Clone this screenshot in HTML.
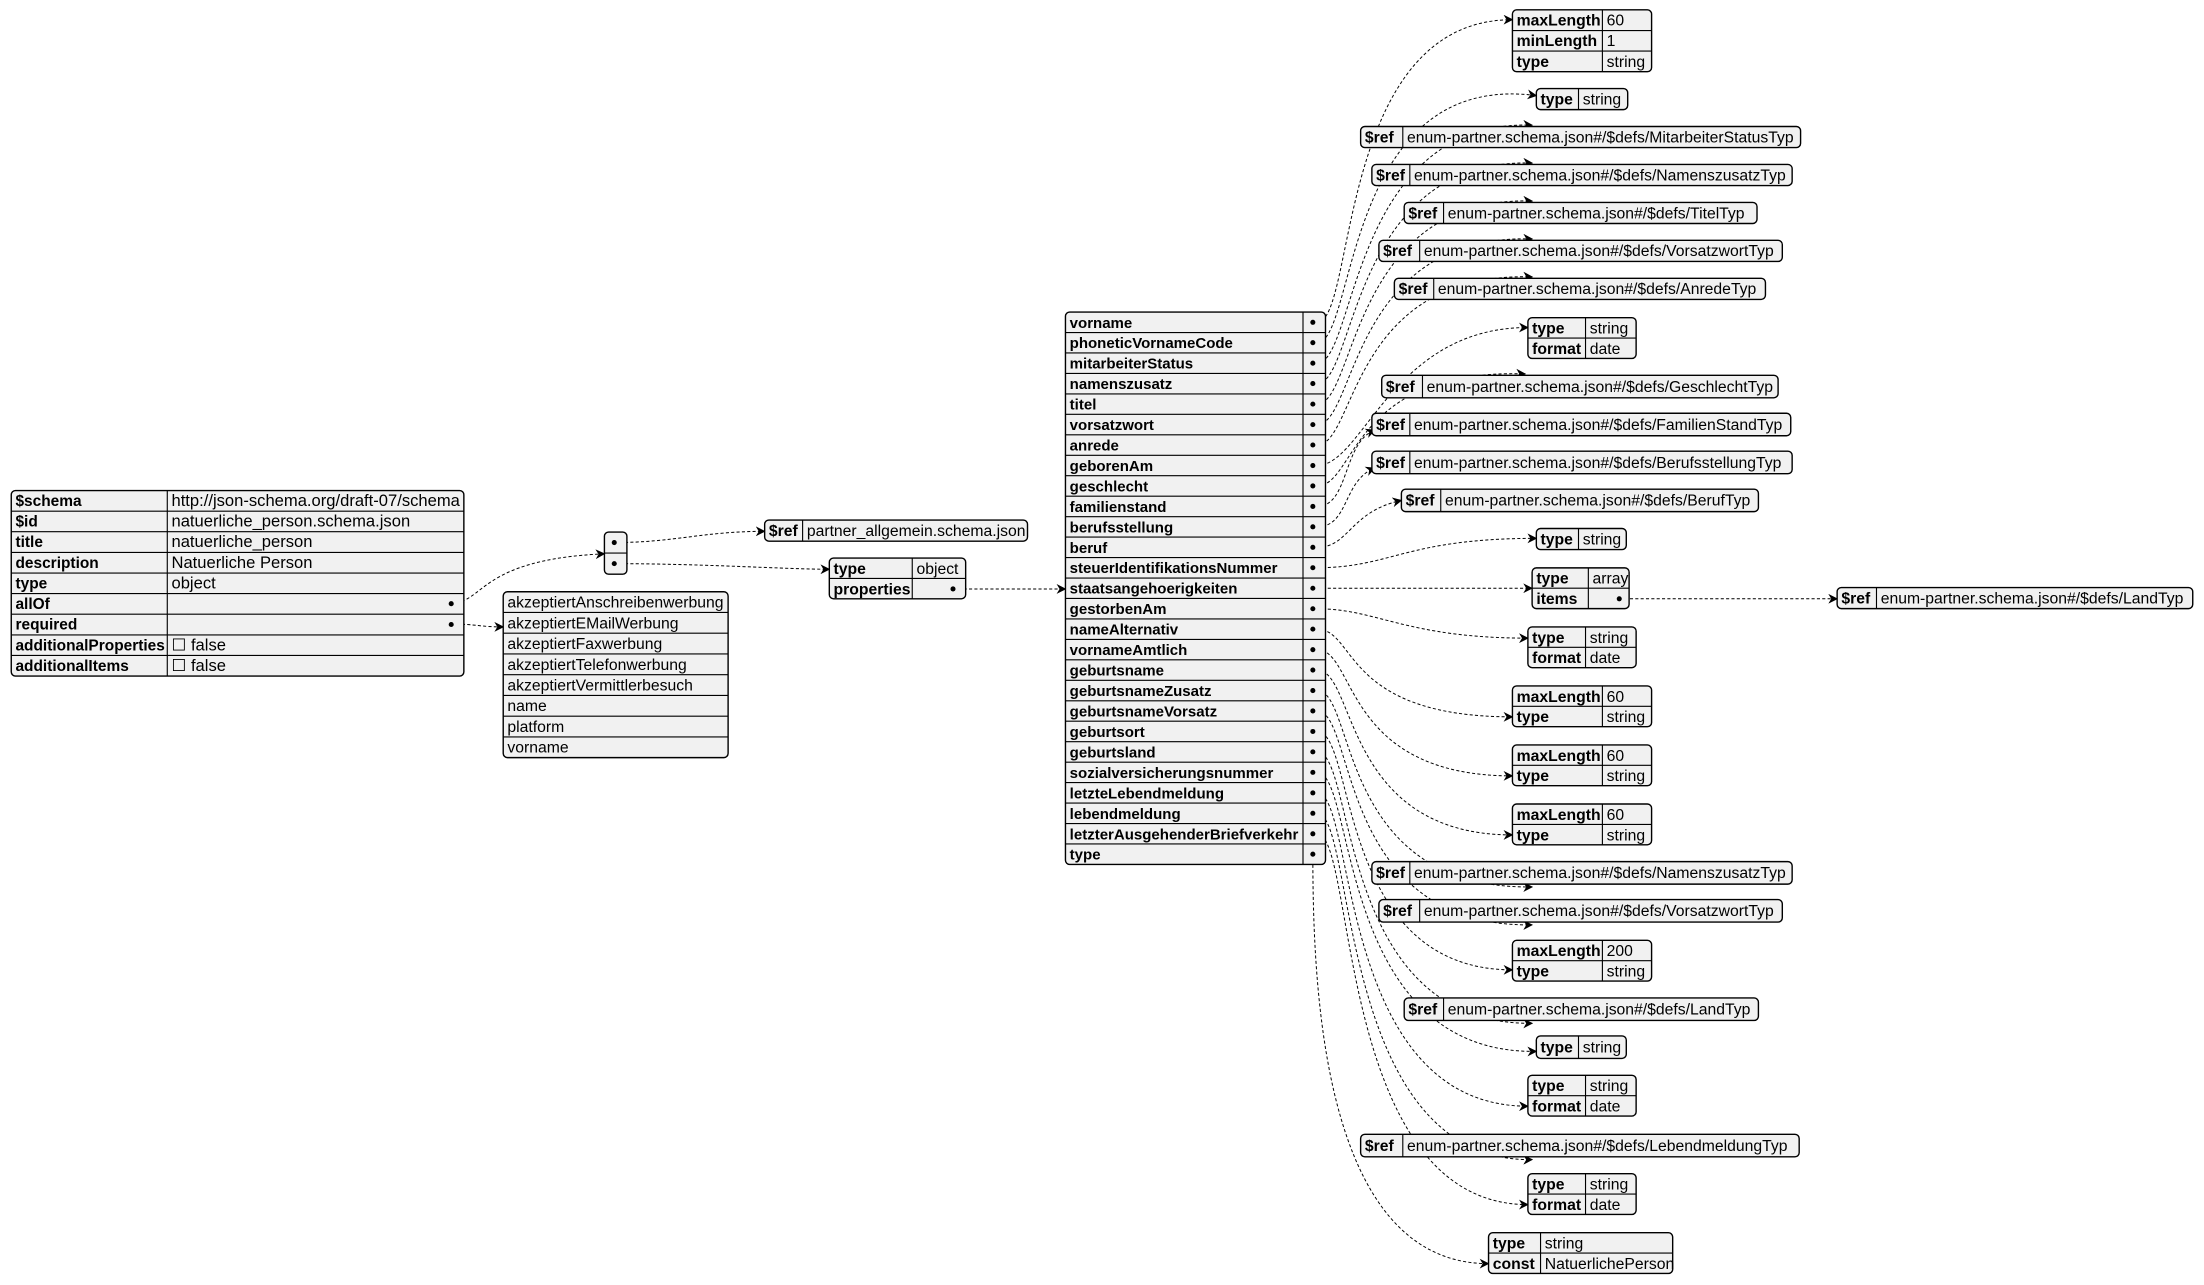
<!DOCTYPE html>
<html><head><meta charset="utf-8"><style>
html,body{margin:0;padding:0;background:#fff;width:2204px;height:1285px;overflow:hidden}
svg{display:block}
text{font-family:"Liberation Sans",sans-serif;font-size:11.2px;fill:#000}
.lt text{font-size:11.8px}
.lt text.k{font-size:11px}
.pt text{font-size:10.7px}
.k{font-weight:bold}
.b{fill:#f1f1f1;stroke:#000;stroke-width:1}
.l{stroke:#000;stroke-width:0.8;fill:none}
.e{stroke:#000;stroke-width:0.7;fill:none;stroke-dasharray:2.2 1.6;marker-end:url(#a)}
</style></head><body>
<svg width="2204" height="1285" viewBox="0 0 1568 914.2" xmlns="http://www.w3.org/2000/svg">
<defs><marker id="a" viewBox="0 0 10 10" refX="9" refY="5" markerWidth="7" markerHeight="7" orient="auto" markerUnits="userSpaceOnUse"><path d="M0,0 L10,5 L0,10 L3,5 z" fill="#000"/></marker></defs>

<path class="e" d="M321,429 C345,429 340,398 430,394"/>
<path class="e" d="M321,444 C340,444 340,446 358,446"/>
<path class="e" d="M437,386 C480,386 500,378 544,378"/>
<path class="e" d="M437,401 C500,401 560,405 590,405"/>
<path class="e" d="M678,419 L758,419"/>

<path class="e" d="M937,229.3 C965,229.3 950,14 1076,14"/>
<path class="e" d="M937,243.8 C965,243.8 955,50 1093,68"/>
<path class="e" d="M937,258.4 C965,258.4 960,85 1090,89"/>
<path class="e" d="M937,272.9 C965,272.9 960,112 1090,116"/>
<path class="e" d="M937,287.5 C965,287.5 960,139 1090,143"/>
<path class="e" d="M937,302.1 C965,302.1 960,166 1090,170"/>
<path class="e" d="M937,316.6 C965,316.6 960,193 1090,197"/>
<path class="e" d="M937,331.2 C970,331.2 990,233 1087,233"/>
<path class="e" d="M937,345.7 C965,345.7 960,262 1085,266"/>
<path class="e" d="M937,360.3 C960,360.3 955,315 978,306"/>
<path class="e" d="M937,374.8 C960,374.8 955,342 978,333"/>
<path class="e" d="M937,389.4 C960,389.4 960,364 997,356"/>
<path class="e" d="M937,403.9 C990,403.9 1000,383 1093,383"/>
<path class="e" d="M937,418.5 L1090,418.5"/>
<path class="e" d="M937,433.1 C980,433.1 1000,454 1087,454"/>
<path class="e" d="M937,447.6 C965,447.6 955,510 1076,510"/>
<path class="e" d="M937,462.2 C965,462.2 955,552 1076,552"/>
<path class="e" d="M937,476.7 C965,476.7 955,594 1076,594"/>
<path class="e" d="M937,491.3 C965,491.3 950,633 1090,631"/>
<path class="e" d="M937,505.8 C965,505.8 950,660 1090,658"/>
<path class="e" d="M937,520.4 C965,520.4 950,690 1076,690"/>
<path class="e" d="M937,534.9 C965,534.9 950,730 1090,728"/>
<path class="e" d="M937,549.5 C965,549.5 950,750 1093,748"/>
<path class="e" d="M937,564.1 C965,564.1 950,787 1087,787"/>
<path class="e" d="M937,578.6 C965,578.6 950,827 1090,825"/>
<path class="e" d="M937,593.2 C965,593.2 950,857 1087,857"/>
<path class="e" d="M934,607.7 C934,700 940,899 1059,899"/>
<path class="e" d="M1152,426 L1307,426"/>

<g class="lt">
<rect class="b" x="8" y="349" width="322" height="132" rx="3"/>
<path class="l" d="M119,349V481 M8,363.7H330 M8,378.3H330 M8,393H330 M8,407.7H330 M8,422.3H330 M8,437H330 M8,451.7H330 M8,466.3H330"/>
<text class="k" x="11" y="360">$schema</text><text x="122" y="360">http://json-schema.org/draft-07/schema</text>
<text class="k" x="11" y="374.7">$id</text><text x="122" y="374.7">natuerliche_person.schema.json</text>
<text class="k" x="11" y="389.3">title</text><text x="122" y="389.3">natuerliche_person</text>
<text class="k" x="11" y="404">description</text><text x="122" y="404">Natuerliche Person</text>
<text class="k" x="11" y="418.7">type</text><text x="122" y="418.7">object</text>
<text class="k" x="11" y="433.3">allOf</text><circle cx="321" cy="429.5" r="1.8"/>
<text class="k" x="11" y="448">required</text><circle cx="321" cy="444.3" r="1.8"/>
<text class="k" x="11" y="462.7">additionalProperties</text><text x="122" y="462.7">☐ false</text>
<text class="k" x="11" y="477.3">additionalItems</text><text x="122" y="477.3">☐ false</text>
</g>

<rect class="b" x="430" y="378.5" width="16" height="30" rx="3"/>
<path class="l" d="M430,393.5H446"/>
<circle cx="437" cy="386" r="1.8"/><circle cx="437" cy="401" r="1.8"/>

<rect class="b" x="358" y="421" width="160" height="118" rx="3"/>
<path class="l" d="M358,435.75H518 M358,450.5H518 M358,465.25H518 M358,480H518 M358,494.75H518 M358,509.5H518 M358,524.25H518"/>
<text x="361" y="432.3">akzeptiertAnschreibenwerbung</text>
<text x="361" y="447">akzeptiertEMailWerbung</text>
<text x="361" y="461.8">akzeptiertFaxwerbung</text>
<text x="361" y="476.5">akzeptiertTelefonwerbung</text>
<text x="361" y="491.3">akzeptiertVermittlerbesuch</text>
<text x="361" y="506">name</text>
<text x="361" y="520.8">platform</text>
<text x="361" y="535.5">vorname</text>

<rect class="b" x="544" y="370" width="187" height="15" rx="3"/><path class="l" d="M571,370V385"/>
<text class="k" x="547" y="381.3">$ref</text><text x="574" y="381.3">partner_allgemein.schema.json</text>

<rect class="b" x="590" y="397" width="97" height="29" rx="3"/><path class="l" d="M649,397V426 M590,411.5H687"/>
<text class="k" x="593" y="408.3">type</text><text x="652" y="408.3">object</text>
<text class="k" x="593" y="422.8">properties</text><circle cx="678" cy="419" r="1.8"/>

<g class="pt">
<rect class="b" x="758" y="222" width="185" height="393" rx="3"/>
<path class="l" d="M927,222V615 M758,236.56H943 M758,251.11H943 M758,265.67H943 M758,280.22H943 M758,294.78H943 M758,309.33H943 M758,323.89H943 M758,338.44H943 M758,353H943 M758,367.56H943 M758,382.11H943 M758,396.67H943 M758,411.22H943 M758,425.78H943 M758,440.33H943 M758,454.89H943 M758,469.44H943 M758,484H943 M758,498.56H943 M758,513.11H943 M758,527.67H943 M758,542.22H943 M758,556.78H943 M758,571.33H943 M758,585.89H943 M758,600.44H943"/>
<text class="k" x="761" y="233.2">vorname</text>
<text class="k" x="761" y="247.7">phoneticVornameCode</text>
<text class="k" x="761" y="262.3">mitarbeiterStatus</text>
<text class="k" x="761" y="276.8">namenszusatz</text>
<text class="k" x="761" y="291.4">titel</text>
<text class="k" x="761" y="306">vorsatzwort</text>
<text class="k" x="761" y="320.5">anrede</text>
<text class="k" x="761" y="335.1">geborenAm</text>
<text class="k" x="761" y="349.6">geschlecht</text>
<text class="k" x="761" y="364.2">familienstand</text>
<text class="k" x="761" y="378.7">berufsstellung</text>
<text class="k" x="761" y="393.3">beruf</text>
<text class="k" x="761" y="407.8">steuerIdentifikationsNummer</text>
<text class="k" x="761" y="422.4">staatsangehoerigkeiten</text>
<text class="k" x="761" y="437">gestorbenAm</text>
<text class="k" x="761" y="451.5">nameAlternativ</text>
<text class="k" x="761" y="466.1">vornameAmtlich</text>
<text class="k" x="761" y="480.6">geburtsname</text>
<text class="k" x="761" y="495.2">geburtsnameZusatz</text>
<text class="k" x="761" y="509.7">geburtsnameVorsatz</text>
<text class="k" x="761" y="524.3">geburtsort</text>
<text class="k" x="761" y="538.8">geburtsland</text>
<text class="k" x="761" y="553.4">sozialversicherungsnummer</text>
<text class="k" x="761" y="568">letzteLebendmeldung</text>
<text class="k" x="761" y="582.5">lebendmeldung</text>
<text class="k" x="761" y="597.1">letzterAusgehenderBriefverkehr</text>
<text class="k" x="761" y="611.6">type</text>
</g>
<g>
<circle cx="934" cy="229.3" r="1.8"/><circle cx="934" cy="243.8" r="1.8"/><circle cx="934" cy="258.4" r="1.8"/><circle cx="934" cy="272.9" r="1.8"/><circle cx="934" cy="287.5" r="1.8"/><circle cx="934" cy="302.1" r="1.8"/><circle cx="934" cy="316.6" r="1.8"/><circle cx="934" cy="331.2" r="1.8"/><circle cx="934" cy="345.7" r="1.8"/><circle cx="934" cy="360.3" r="1.8"/><circle cx="934" cy="374.8" r="1.8"/><circle cx="934" cy="389.4" r="1.8"/><circle cx="934" cy="403.9" r="1.8"/><circle cx="934" cy="418.5" r="1.8"/><circle cx="934" cy="433.1" r="1.8"/><circle cx="934" cy="447.6" r="1.8"/><circle cx="934" cy="462.2" r="1.8"/><circle cx="934" cy="476.7" r="1.8"/><circle cx="934" cy="491.3" r="1.8"/><circle cx="934" cy="505.8" r="1.8"/><circle cx="934" cy="520.4" r="1.8"/><circle cx="934" cy="534.9" r="1.8"/><circle cx="934" cy="549.5" r="1.8"/><circle cx="934" cy="564.1" r="1.8"/><circle cx="934" cy="578.6" r="1.8"/><circle cx="934" cy="593.2" r="1.8"/><circle cx="934" cy="607.7" r="1.8"/>
</g>

<rect class="b" x="1076" y="7" width="99" height="44" rx="3"/><path class="l" d="M1140,7V51 M1076,21.7H1175 M1076,36.3H1175"/>
<text class="k" x="1079" y="18.3">maxLength</text><text x="1143" y="18.3">60</text>
<text class="k" x="1079" y="32.9">minLength</text><text x="1143" y="32.9">1</text>
<text class="k" x="1079" y="47.6">type</text><text x="1143" y="47.6">string</text>
<rect class="b" x="1093" y="63" width="65" height="15" rx="3"/><path class="l" d="M1123,63V78"/>
<text class="k" x="1096" y="74.3">type</text><text x="1126" y="74.3">string</text>
<rect class="b" x="968" y="90" width="313" height="15" rx="3"/><path class="l" d="M998,90V105"/>
<text class="k" x="971" y="101.3">$ref</text><text x="1001" y="101.3">enum-partner.schema.json#/$defs/MitarbeiterStatusTyp</text>
<rect class="b" x="976" y="117" width="299" height="15" rx="3"/><path class="l" d="M1003,117V132"/>
<text class="k" x="979" y="128.3">$ref</text><text x="1006" y="128.3">enum-partner.schema.json#/$defs/NamenszusatzTyp</text>
<rect class="b" x="999" y="144" width="251" height="15" rx="3"/><path class="l" d="M1027,144V159"/>
<text class="k" x="1002" y="155.3">$ref</text><text x="1030" y="155.3">enum-partner.schema.json#/$defs/TitelTyp</text>
<rect class="b" x="981" y="171" width="287" height="15" rx="3"/><path class="l" d="M1010,171V186"/>
<text class="k" x="984" y="182.3">$ref</text><text x="1013" y="182.3">enum-partner.schema.json#/$defs/VorsatzwortTyp</text>
<rect class="b" x="992" y="198" width="264" height="15" rx="3"/><path class="l" d="M1020,198V213"/>
<text class="k" x="995" y="209.3">$ref</text><text x="1023" y="209.3">enum-partner.schema.json#/$defs/AnredeTyp</text>
<rect class="b" x="1087" y="226" width="77" height="29" rx="3"/><path class="l" d="M1128,226V255 M1087,240.5H1164"/>
<text class="k" x="1090" y="237.3">type</text><text x="1131" y="237.3">string</text>
<text class="k" x="1090" y="251.8">format</text><text x="1131" y="251.8">date</text>
<rect class="b" x="983" y="267" width="282" height="16" rx="3"/><path class="l" d="M1012,267V283"/>
<text class="k" x="986" y="278.8">$ref</text><text x="1015" y="278.8">enum-partner.schema.json#/$defs/GeschlechtTyp</text>
<rect class="b" x="976" y="294" width="298" height="16" rx="3"/><path class="l" d="M1003,294V310"/>
<text class="k" x="979" y="305.8">$ref</text><text x="1006" y="305.8">enum-partner.schema.json#/$defs/FamilienStandTyp</text>
<rect class="b" x="976" y="321" width="299" height="16" rx="3"/><path class="l" d="M1003,321V337"/>
<text class="k" x="979" y="332.8">$ref</text><text x="1006" y="332.8">enum-partner.schema.json#/$defs/BerufsstellungTyp</text>
<rect class="b" x="997" y="348" width="254" height="16" rx="3"/><path class="l" d="M1025,348V364"/>
<text class="k" x="1000" y="359.8">$ref</text><text x="1028" y="359.8">enum-partner.schema.json#/$defs/BerufTyp</text>
<rect class="b" x="1093" y="376" width="64" height="15" rx="3"/><path class="l" d="M1123,376V391"/>
<text class="k" x="1096" y="387.3">type</text><text x="1126" y="387.3">string</text>
<rect class="b" x="1090" y="404" width="69" height="29" rx="3"/><path class="l" d="M1130,404V433 M1090,418.5H1159"/>
<text class="k" x="1093" y="415.3">type</text><text x="1133" y="415.3">array</text>
<text class="k" x="1093" y="429.8">items</text><circle cx="1152" cy="426" r="1.8"/>
<rect class="b" x="1307" y="418" width="253" height="15" rx="3"/><path class="l" d="M1335,418V433"/>
<text class="k" x="1310" y="429.3">$ref</text><text x="1338" y="429.3">enum-partner.schema.json#/$defs/LandTyp</text>
<rect class="b" x="1087" y="446" width="77" height="29" rx="3"/><path class="l" d="M1128,446V475 M1087,460.5H1164"/>
<text class="k" x="1090" y="457.3">type</text><text x="1131" y="457.3">string</text>
<text class="k" x="1090" y="471.8">format</text><text x="1131" y="471.8">date</text>
<rect class="b" x="1076" y="488" width="99" height="29" rx="3"/><path class="l" d="M1140,488V517 M1076,502.5H1175"/>
<text class="k" x="1079" y="499.3">maxLength</text><text x="1143" y="499.3">60</text>
<text class="k" x="1079" y="513.8">type</text><text x="1143" y="513.8">string</text>
<rect class="b" x="1076" y="530" width="99" height="29" rx="3"/><path class="l" d="M1140,530V559 M1076,544.5H1175"/>
<text class="k" x="1079" y="541.3">maxLength</text><text x="1143" y="541.3">60</text>
<text class="k" x="1079" y="555.8">type</text><text x="1143" y="555.8">string</text>
<rect class="b" x="1076" y="572" width="99" height="29" rx="3"/><path class="l" d="M1140,572V601 M1076,586.5H1175"/>
<text class="k" x="1079" y="583.3">maxLength</text><text x="1143" y="583.3">60</text>
<text class="k" x="1079" y="597.8">type</text><text x="1143" y="597.8">string</text>
<rect class="b" x="976" y="613" width="299" height="16" rx="3"/><path class="l" d="M1003,613V629"/>
<text class="k" x="979" y="624.8">$ref</text><text x="1006" y="624.8">enum-partner.schema.json#/$defs/NamenszusatzTyp</text>
<rect class="b" x="981" y="640" width="287" height="16" rx="3"/><path class="l" d="M1010,640V656"/>
<text class="k" x="984" y="651.8">$ref</text><text x="1013" y="651.8">enum-partner.schema.json#/$defs/VorsatzwortTyp</text>
<rect class="b" x="1076" y="669" width="99" height="29" rx="3"/><path class="l" d="M1140,669V698 M1076,683.5H1175"/>
<text class="k" x="1079" y="680.3">maxLength</text><text x="1143" y="680.3">200</text>
<text class="k" x="1079" y="694.8">type</text><text x="1143" y="694.8">string</text>
<rect class="b" x="999" y="710" width="252" height="16" rx="3"/><path class="l" d="M1027,710V726"/>
<text class="k" x="1002" y="721.8">$ref</text><text x="1030" y="721.8">enum-partner.schema.json#/$defs/LandTyp</text>
<rect class="b" x="1093" y="737" width="64" height="16" rx="3"/><path class="l" d="M1123,737V753"/>
<text class="k" x="1096" y="748.8">type</text><text x="1126" y="748.8">string</text>
<rect class="b" x="1087" y="765" width="77" height="29" rx="3"/><path class="l" d="M1128,765V794 M1087,779.5H1164"/>
<text class="k" x="1090" y="776.3">type</text><text x="1131" y="776.3">string</text>
<text class="k" x="1090" y="790.8">format</text><text x="1131" y="790.8">date</text>
<rect class="b" x="968" y="807" width="312" height="16" rx="3"/><path class="l" d="M998,807V823"/>
<text class="k" x="971" y="818.8">$ref</text><text x="1001" y="818.8">enum-partner.schema.json#/$defs/LebendmeldungTyp</text>
<rect class="b" x="1087" y="835" width="77" height="29" rx="3"/><path class="l" d="M1128,835V864 M1087,849.5H1164"/>
<text class="k" x="1090" y="846.3">type</text><text x="1131" y="846.3">string</text>
<text class="k" x="1090" y="860.8">format</text><text x="1131" y="860.8">date</text>
<rect class="b" x="1059" y="877" width="131" height="29" rx="3"/><path class="l" d="M1096,877V906 M1059,891.5H1190"/>
<text class="k" x="1062" y="888.3">type</text><text x="1099" y="888.3">string</text>
<text class="k" x="1062" y="902.8">const</text><text x="1099" y="902.8">NatuerlichePerson</text>
</svg>
</body></html>
